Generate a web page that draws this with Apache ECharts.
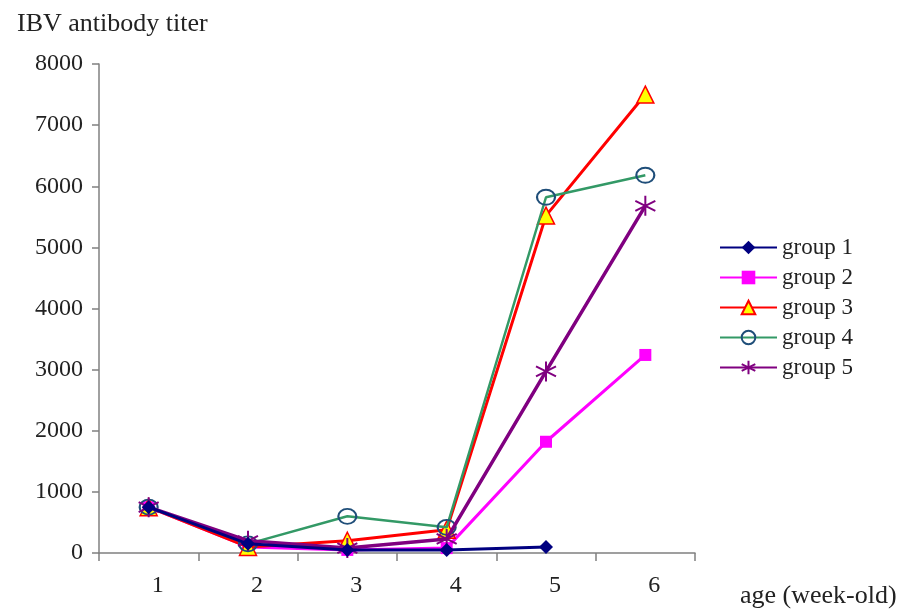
<!DOCTYPE html>
<html><head><meta charset="utf-8">
<script src="https://cdn.jsdelivr.net/npm/echarts@6/dist/echarts.min.js"></script>
<style>html,body{margin:0;padding:0;background:#fff}#c{width:901px;height:610px}</style>
</head><body><div id="c"></div>
<script>
var weeks = ['1','2','3','4','5','6'];
var yTicks = [0,1000,2000,3000,4000,5000,6000,7000,8000];
var group1 = [750, 150, 50, 50, 100, null];
var group2 = [750, 100, 50, 80, 1820, 3240];
var group3 = [750, 100, 200, 380, 5520, 7500];
var group4 = [750, 150, 600, 420, 5820, 6180];
var group5 = [750, 200, 80, 230, 2970, 5680];

var FONT = '"Liberation Serif", "DejaVu Serif", serif';
var star = 'path://M0,-10L0,10M-9,-5L9,5M-9,5L9,-5';

var chart = echarts.init(document.getElementById('c'));
chart.setOption({
  animation: false,
  title: {text: 'IBV antibody titer', left: 12, top: 6,
    textStyle: {fontFamily: FONT, fontWeight: 'normal', fontSize: 26, color: '#222'}},
  grid: {left: 99, right: 206, top: 64, bottom: 57},
  legend: {
    orient: 'vertical', left: 714, top: 231, itemGap: 7,
    itemWidth: 57, itemHeight: 17,
    textStyle: {fontFamily: FONT, fontSize: 23, lineHeight: 23, color: '#222'},
    data: ['group 1','group 2','group 3','group 4','group 5']
  },
  xAxis: {
    type: 'category', data: weeks, boundaryGap: true,
    name: 'age (week-old)', nameLocation: 'end', nameGap: 45,
    nameTextStyle: {fontFamily: FONT, fontSize: 26, color: '#222', verticalAlign: 'top', padding: [30,0,0,0]},
    axisLine: {lineStyle: {color: '#808080', width: 1.5}},
    axisTick: {show: true, alignWithLabel: false, length: 8, lineStyle: {color: '#808080', width: 1.5}},
    axisLabel: {fontFamily: FONT, fontSize: 24, color: '#222', margin: 21, padding: [0,0,0,18]},
    splitLine: {show: false}
  },
  yAxis: {
    type: 'value', min: 0, max: 8000, interval: 1000,
    axisLine: {show: true, lineStyle: {color: '#808080', width: 1.5}},
    axisTick: {show: true, length: 7, lineStyle: {color: '#808080', width: 1.5}},
    axisLabel: {fontFamily: FONT, fontSize: 24, color: '#222', margin: 16, formatter: function (v) { return String(v); }},
    splitLine: {show: false}
  },
  series: [
    {name: 'group 1', type: 'line', data: group1, symbol: 'diamond', symbolSize: 14, z: 6,
      lineStyle: {color: '#000080', width: 3}, itemStyle: {color: '#000080'}},
    {name: 'group 2', type: 'line', data: group2, symbol: 'rect', symbolSize: 12, z: 2,
      lineStyle: {color: '#FF00FF', width: 3}, itemStyle: {color: '#FF00FF'}},
    {name: 'group 3', type: 'line', data: group3, symbol: 'triangle', symbolSize: 17, z: 3,
      lineStyle: {color: '#FF0000', width: 3}, itemStyle: {color: '#FFFF00', borderColor: '#FF0000', borderWidth: 1.5}},
    {name: 'group 4', type: 'line', data: group4, symbol: 'circle', symbolSize: [18, 15], z: 4,
      lineStyle: {color: '#339966', width: 2.5}, itemStyle: {color: 'rgba(255,255,255,0)', borderColor: '#1F4E79', borderWidth: 2}},
    {name: 'group 5', type: 'line', data: group5, symbol: star, symbolSize: 20, z: 5,
      lineStyle: {color: '#800080', width: 3.5}, itemStyle: {color: 'none', borderColor: '#800080', borderWidth: 2}}
  ]
});
</script></body></html>
